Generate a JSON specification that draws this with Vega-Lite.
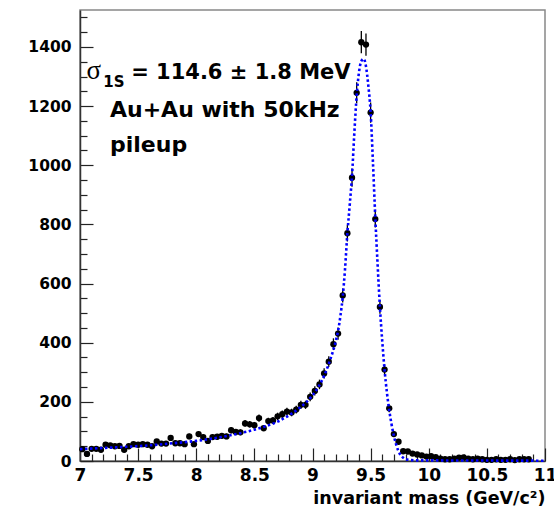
{
  "$schema": "https://vega.github.io/schema/vega-lite/v6.json",
  "width": 465,
  "height": 451,
  "autosize": "none",
  "padding": {"left": 80, "top": 10, "right": 9, "bottom": 48},
  "background": "white",
  "config": {
    "view": {"stroke": "#888888", "strokeWidth": 1.5},
    "font": "DejaVu Sans",
    "axis": {
      "labelFont": "DejaVu Sans", "labelFontWeight": "bold", "labelColor": "black",
      "labelFlush": false, "labelOverlap": false,
      "tickColor": "#222222", "tickWidth": 1.2,
      "domainColor": "#333333", "domainWidth": 1.5, "grid": false,
      "titleFont": "DejaVu Sans", "titleFontWeight": "bold", "titleColor": "black"
    },
    "axisX": {"labelFontSize": 17, "labelPadding": 19, "titleFontSize": 17.5, "titleAnchor": "end", "titleAlign": "right", "titlePadding": 0},
    "axisY": {"labelFontSize": 15.5, "labelPadding": 22}
  },
  "datasets": {
    "hist": [
      {"m":7.02,"n":40,"err":6.3},{"m":7.06,"n":24,"err":4.9},{"m":7.10,"n":41,"err":6.4},{"m":7.14,"n":41,"err":6.4},
      {"m":7.18,"n":38,"err":6.2},{"m":7.22,"n":55,"err":7.4},{"m":7.26,"n":53,"err":7.3},{"m":7.30,"n":50,"err":7.1},
      {"m":7.34,"n":51,"err":7.1},{"m":7.38,"n":38,"err":6.2},{"m":7.42,"n":50,"err":7.1},{"m":7.46,"n":57,"err":7.5},
      {"m":7.50,"n":55,"err":7.4},{"m":7.54,"n":57,"err":7.5},{"m":7.58,"n":55,"err":7.4},{"m":7.62,"n":50,"err":7.1},
      {"m":7.66,"n":66,"err":8.1},{"m":7.70,"n":59,"err":7.7},{"m":7.74,"n":59,"err":7.7},{"m":7.78,"n":78,"err":8.8},
      {"m":7.82,"n":60,"err":7.7},{"m":7.86,"n":60,"err":7.7},{"m":7.90,"n":57,"err":7.5},{"m":7.94,"n":83,"err":9.1},
      {"m":7.98,"n":57,"err":7.5},{"m":8.02,"n":91,"err":9.5},{"m":8.06,"n":81,"err":9.0},{"m":8.10,"n":68,"err":8.2},
      {"m":8.14,"n":81,"err":9.0},{"m":8.18,"n":82,"err":9.1},{"m":8.22,"n":85,"err":9.2},{"m":8.26,"n":83,"err":9.1},
      {"m":8.30,"n":104,"err":10.2},{"m":8.34,"n":98,"err":9.9},{"m":8.38,"n":97,"err":9.8},{"m":8.42,"n":127,"err":11.3},
      {"m":8.46,"n":124,"err":11.1},{"m":8.50,"n":121,"err":11.0},{"m":8.54,"n":145,"err":12.0},{"m":8.58,"n":111,"err":10.5},
      {"m":8.62,"n":135,"err":11.6},{"m":8.66,"n":137,"err":11.7},{"m":8.70,"n":151,"err":12.3},{"m":8.74,"n":158,"err":12.6},
      {"m":8.78,"n":167,"err":12.9},{"m":8.82,"n":164,"err":12.8},{"m":8.86,"n":174,"err":13.2},{"m":8.90,"n":190,"err":13.8},
      {"m":8.94,"n":190,"err":13.8},{"m":8.98,"n":217,"err":14.7},{"m":9.02,"n":237,"err":15.4},{"m":9.06,"n":259,"err":16.1},
      {"m":9.10,"n":296,"err":17.2},{"m":9.14,"n":336,"err":18.3},{"m":9.18,"n":395,"err":19.9},{"m":9.22,"n":431,"err":20.8},
      {"m":9.26,"n":560,"err":23.7},{"m":9.30,"n":770,"err":27.7},{"m":9.34,"n":958,"err":31.0},{"m":9.38,"n":1245,"err":35.3},
      {"m":9.42,"n":1416,"err":37.6},{"m":9.46,"n":1408,"err":37.5},{"m":9.50,"n":1178,"err":34.3},{"m":9.54,"n":818,"err":28.6},
      {"m":9.58,"n":521,"err":22.8},{"m":9.62,"n":309,"err":17.6},{"m":9.66,"n":178,"err":13.3},{"m":9.70,"n":91,"err":9.5},
      {"m":9.74,"n":65,"err":8.1},{"m":9.78,"n":33,"err":5.7},{"m":9.82,"n":32,"err":5.7},{"m":9.86,"n":25,"err":5.0},
      {"m":9.90,"n":22,"err":4.7},{"m":9.94,"n":19,"err":4.4},{"m":9.98,"n":15,"err":3.9},{"m":10.02,"n":16,"err":4.0},
      {"m":10.06,"n":13,"err":3.6},{"m":10.10,"n":8,"err":2.8},{"m":10.14,"n":6,"err":2.4},{"m":10.18,"n":6,"err":2.4},
      {"m":10.22,"n":8,"err":2.8},{"m":10.26,"n":11,"err":3.3},{"m":10.30,"n":12,"err":3.5},{"m":10.34,"n":8,"err":2.8},
      {"m":10.38,"n":6,"err":2.4},{"m":10.42,"n":8,"err":2.8},{"m":10.46,"n":6,"err":2.4},{"m":10.50,"n":4,"err":2.0},
      {"m":10.54,"n":4,"err":2.0},{"m":10.58,"n":6,"err":2.4},{"m":10.62,"n":4,"err":2.0},{"m":10.66,"n":4,"err":2.0},
      {"m":10.70,"n":6,"err":2.4},{"m":10.74,"n":3,"err":1.7},{"m":10.78,"n":6,"err":2.4},{"m":10.82,"n":6,"err":2.4},
      {"m":10.86,"n":6,"err":2.4}
    ],
    "fit": [
      {"m":7.0,"n":40},{"m":7.2,"n":44},{"m":7.4,"n":48},{"m":7.6,"n":53},{"m":7.8,"n":60},{"m":8.0,"n":68},
      {"m":8.2,"n":80},{"m":8.4,"n":96},{"m":8.5,"n":106},{"m":8.6,"n":118},{"m":8.7,"n":133},{"m":8.8,"n":155},
      {"m":8.9,"n":183},{"m":8.95,"n":200},{"m":9.0,"n":222},{"m":9.05,"n":250},{"m":9.1,"n":288},{"m":9.15,"n":340},
      {"m":9.2,"n":405},{"m":9.22,"n":440},{"m":9.24,"n":490},{"m":9.26,"n":555},{"m":9.28,"n":650},{"m":9.30,"n":770},
      {"m":9.32,"n":865},{"m":9.34,"n":965},{"m":9.36,"n":1110},{"m":9.38,"n":1235},{"m":9.40,"n":1315},{"m":9.42,"n":1352},
      {"m":9.44,"n":1360},{"m":9.46,"n":1335},{"m":9.48,"n":1270},{"m":9.50,"n":1180},{"m":9.52,"n":1010},{"m":9.54,"n":825},
      {"m":9.56,"n":665},{"m":9.58,"n":520},{"m":9.60,"n":405},{"m":9.62,"n":308},{"m":9.64,"n":232},{"m":9.66,"n":172},
      {"m":9.68,"n":124},{"m":9.70,"n":85},{"m":9.72,"n":55},{"m":9.74,"n":33},{"m":9.76,"n":19},{"m":9.78,"n":11},
      {"m":9.80,"n":6},{"m":9.85,"n":3},{"m":9.9,"n":2},{"m":10.0,"n":2},{"m":10.5,"n":1.5},{"m":11.0,"n":1}
    ]
  },
  "layer": [
    {
      "data": {"name": "hist"},
      "mark": {"type": "circle", "color": "black", "size": 40, "opacity": 1},
      "encoding": {
        "x": {"field": "m", "type": "quantitative", "scale": {"domain": [7, 11], "nice": false, "zero": false},
          "axis": {"title": "invariant mass (GeV/c²)", "values": [7,7.1,7.2,7.3,7.4,7.5,7.6,7.7,7.8,7.9,8,8.1,8.2,8.3,8.4,8.5,8.6,8.7,8.8,8.9,9,9.1,9.2,9.3,9.4,9.5,9.6,9.7,9.8,9.9,10,10.1,10.2,10.3,10.4,10.5,10.6,10.7,10.8,10.9,11], "labelExpr": "abs(datum.value*2 - round(datum.value*2)) < 0.001 ? toString(datum.value) : ''", "tickSize": {"condition": {"test": "abs(datum.value*2 - round(datum.value*2)) < 0.001", "value": -13}, "value": -7}}},
        "y": {"field": "n", "type": "quantitative", "scale": {"domain": [0, 1525], "nice": false},
          "axis": {"title": null, "values": [0,50,100,150,200,250,300,350,400,450,500,550,600,650,700,750,800,850,900,950,1000,1050,1100,1150,1200,1250,1300,1350,1400,1450,1500], "labelExpr": "datum.value % 200 === 0 ? toString(datum.value) : ''", "tickSize": {"condition": {"test": "datum.value % 200 === 0", "value": -13}, "value": -7}}}
      }
    },
    {
      "data": {"name": "hist"},
      "mark": {"type": "errorbar", "color": "black", "thickness": 1.3},
      "encoding": {
        "x": {"field": "m", "type": "quantitative",
          "axis": {"title": "invariant mass (GeV/c²)", "values": [7,7.1,7.2,7.3,7.4,7.5,7.6,7.7,7.8,7.9,8,8.1,8.2,8.3,8.4,8.5,8.6,8.7,8.8,8.9,9,9.1,9.2,9.3,9.4,9.5,9.6,9.7,9.8,9.9,10,10.1,10.2,10.3,10.4,10.5,10.6,10.7,10.8,10.9,11], "labelExpr": "abs(datum.value*2 - round(datum.value*2)) < 0.001 ? toString(datum.value) : ''", "tickSize": {"condition": {"test": "abs(datum.value*2 - round(datum.value*2)) < 0.001", "value": -13}, "value": -7}}},
        "y": {"field": "n", "type": "quantitative",
          "axis": {"title": null, "values": [0,50,100,150,200,250,300,350,400,450,500,550,600,650,700,750,800,850,900,950,1000,1050,1100,1150,1200,1250,1300,1350,1400,1450,1500], "labelExpr": "datum.value % 200 === 0 ? toString(datum.value) : ''", "tickSize": {"condition": {"test": "datum.value % 200 === 0", "value": -13}, "value": -7}}},
        "yError": {"field": "err"}
      }
    },
    {
      "data": {"name": "fit"},
      "mark": {"type": "line", "color": "#0000ff", "strokeWidth": 2.6, "strokeDash": [2.5, 2.5], "interpolate": "monotone"},
      "encoding": {
        "x": {"field": "m", "type": "quantitative",
          "axis": {"title": "invariant mass (GeV/c²)", "values": [7,7.1,7.2,7.3,7.4,7.5,7.6,7.7,7.8,7.9,8,8.1,8.2,8.3,8.4,8.5,8.6,8.7,8.8,8.9,9,9.1,9.2,9.3,9.4,9.5,9.6,9.7,9.8,9.9,10,10.1,10.2,10.3,10.4,10.5,10.6,10.7,10.8,10.9,11], "labelExpr": "abs(datum.value*2 - round(datum.value*2)) < 0.001 ? toString(datum.value) : ''", "tickSize": {"condition": {"test": "abs(datum.value*2 - round(datum.value*2)) < 0.001", "value": -13}, "value": -7}}},
        "y": {"field": "n", "type": "quantitative",
          "axis": {"title": null, "values": [0,50,100,150,200,250,300,350,400,450,500,550,600,650,700,750,800,850,900,950,1000,1050,1100,1150,1200,1250,1300,1350,1400,1450,1500], "labelExpr": "datum.value % 200 === 0 ? toString(datum.value) : ''", "tickSize": {"condition": {"test": "datum.value % 200 === 0", "value": -13}, "value": -7}}}
      }
    },
    {
      "data": {"values": [{"t": "σ"}]},
      "mark": {"type": "text", "font": "Liberation Serif", "fontSize": 27, "align": "left", "baseline": "alphabetic", "color": "black"},
      "encoding": {
        "x": {"datum": 7.055, "type": "quantitative",
          "axis": {"title": "invariant mass (GeV/c²)", "values": [7,7.1,7.2,7.3,7.4,7.5,7.6,7.7,7.8,7.9,8,8.1,8.2,8.3,8.4,8.5,8.6,8.7,8.8,8.9,9,9.1,9.2,9.3,9.4,9.5,9.6,9.7,9.8,9.9,10,10.1,10.2,10.3,10.4,10.5,10.6,10.7,10.8,10.9,11], "labelExpr": "abs(datum.value*2 - round(datum.value*2)) < 0.001 ? toString(datum.value) : ''", "tickSize": {"condition": {"test": "abs(datum.value*2 - round(datum.value*2)) < 0.001", "value": -13}, "value": -7}}},
        "y": {"datum": 1290, "type": "quantitative",
          "axis": {"title": null, "values": [0,50,100,150,200,250,300,350,400,450,500,550,600,650,700,750,800,850,900,950,1000,1050,1100,1150,1200,1250,1300,1350,1400,1450,1500], "labelExpr": "datum.value % 200 === 0 ? toString(datum.value) : ''", "tickSize": {"condition": {"test": "datum.value % 200 === 0", "value": -13}, "value": -7}}},
        "text": {"field": "t"}
      }
    },
    {
      "data": {"values": [{"t": "1S"}]},
      "mark": {"type": "text", "font": "DejaVu Sans", "fontWeight": "bold", "fontSize": 15, "align": "left", "baseline": "alphabetic", "color": "black"},
      "encoding": {
        "x": {"datum": 7.2, "type": "quantitative",
          "axis": {"title": "invariant mass (GeV/c²)", "values": [7,7.1,7.2,7.3,7.4,7.5,7.6,7.7,7.8,7.9,8,8.1,8.2,8.3,8.4,8.5,8.6,8.7,8.8,8.9,9,9.1,9.2,9.3,9.4,9.5,9.6,9.7,9.8,9.9,10,10.1,10.2,10.3,10.4,10.5,10.6,10.7,10.8,10.9,11], "labelExpr": "abs(datum.value*2 - round(datum.value*2)) < 0.001 ? toString(datum.value) : ''", "tickSize": {"condition": {"test": "abs(datum.value*2 - round(datum.value*2)) < 0.001", "value": -13}, "value": -7}}},
        "y": {"datum": 1265, "type": "quantitative",
          "axis": {"title": null, "values": [0,50,100,150,200,250,300,350,400,450,500,550,600,650,700,750,800,850,900,950,1000,1050,1100,1150,1200,1250,1300,1350,1400,1450,1500], "labelExpr": "datum.value % 200 === 0 ? toString(datum.value) : ''", "tickSize": {"condition": {"test": "datum.value % 200 === 0", "value": -13}, "value": -7}}},
        "text": {"field": "t"}
      }
    },
    {
      "data": {"values": [{"t": "= 114.6 ± 1.8 MeV"}]},
      "mark": {"type": "text", "font": "DejaVu Sans", "fontWeight": "bold", "fontSize": 21, "align": "left", "baseline": "alphabetic", "color": "black"},
      "encoding": {
        "x": {"datum": 7.44, "type": "quantitative",
          "axis": {"title": "invariant mass (GeV/c²)", "values": [7,7.1,7.2,7.3,7.4,7.5,7.6,7.7,7.8,7.9,8,8.1,8.2,8.3,8.4,8.5,8.6,8.7,8.8,8.9,9,9.1,9.2,9.3,9.4,9.5,9.6,9.7,9.8,9.9,10,10.1,10.2,10.3,10.4,10.5,10.6,10.7,10.8,10.9,11], "labelExpr": "abs(datum.value*2 - round(datum.value*2)) < 0.001 ? toString(datum.value) : ''", "tickSize": {"condition": {"test": "abs(datum.value*2 - round(datum.value*2)) < 0.001", "value": -13}, "value": -7}}},
        "y": {"datum": 1290, "type": "quantitative",
          "axis": {"title": null, "values": [0,50,100,150,200,250,300,350,400,450,500,550,600,650,700,750,800,850,900,950,1000,1050,1100,1150,1200,1250,1300,1350,1400,1450,1500], "labelExpr": "datum.value % 200 === 0 ? toString(datum.value) : ''", "tickSize": {"condition": {"test": "datum.value % 200 === 0", "value": -13}, "value": -7}}},
        "text": {"field": "t"}
      }
    },
    {
      "data": {"values": [{"t": "Au+Au with 50kHz\npileup"}]},
      "mark": {"type": "text", "font": "DejaVu Sans", "fontWeight": "bold", "fontSize": 22, "align": "left", "baseline": "alphabetic", "lineBreak": "\n", "lineHeight": 35, "color": "black"},
      "encoding": {
        "x": {"datum": 7.258, "type": "quantitative",
          "axis": {"title": "invariant mass (GeV/c²)", "values": [7,7.1,7.2,7.3,7.4,7.5,7.6,7.7,7.8,7.9,8,8.1,8.2,8.3,8.4,8.5,8.6,8.7,8.8,8.9,9,9.1,9.2,9.3,9.4,9.5,9.6,9.7,9.8,9.9,10,10.1,10.2,10.3,10.4,10.5,10.6,10.7,10.8,10.9,11], "labelExpr": "abs(datum.value*2 - round(datum.value*2)) < 0.001 ? toString(datum.value) : ''", "tickSize": {"condition": {"test": "abs(datum.value*2 - round(datum.value*2)) < 0.001", "value": -13}, "value": -7}}},
        "y": {"datum": 1164, "type": "quantitative",
          "axis": {"title": null, "values": [0,50,100,150,200,250,300,350,400,450,500,550,600,650,700,750,800,850,900,950,1000,1050,1100,1150,1200,1250,1300,1350,1400,1450,1500], "labelExpr": "datum.value % 200 === 0 ? toString(datum.value) : ''", "tickSize": {"condition": {"test": "datum.value % 200 === 0", "value": -13}, "value": -7}}},
        "text": {"field": "t"}
      }
    }
  ]
}
